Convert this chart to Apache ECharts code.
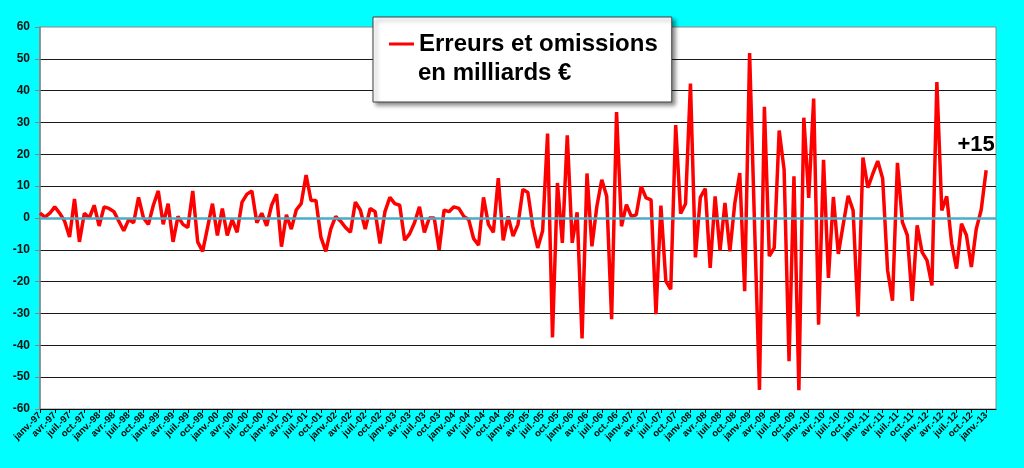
<!DOCTYPE html>
<html>
<head>
<meta charset="utf-8">
<script src="https://cdn.jsdelivr.net/npm/echarts@6/dist/echarts.min.js"></script>
<style>
  html, body { margin: 0; padding: 0; background: #00ffff; }
  #chart { width: 1024px; height: 468px; }
</style>
</head>
<body>
<div id="chart"></div>
<script>
// mois et années de l'axe des abscisses
var mois = ['janv.', 'févr.', 'mars', 'avr.', 'mai', 'juin', 'juil.', 'août', 'sept.', 'oct.', 'nov.', 'déc.'];
var annees = ['97', '98', '99', '00', '01', '02', '03', '04', '05', '06', '07', '08', '09', '10', '11', '12', '13'];

// erreurs et omissions, en milliards d'euros, une ligne par année
var e1997 = [1.5, 0.3, 1.5, 3.5, 1.5, -1, -6, 6, -7.5, 1.5, 0, 4];
var e1998 = [-2.5, 3.5, 3, 2, -1, -4, -0.5, -1.5, 6.5, 0, -2, 4];
var e1999 = [8.5, -2, 4.5, -7.5, 0.5, -2, -3, 8.5, -7.5, -10.5, -3, 4.5];
var e2000 = [-5.5, 3, -5.5, -0.5, -4.5, 5, 7.5, 8.5, -1.5, 1.5, -2.5, 4];
var e2001 = [7.5, -9, 1, -3.5, 2.5, 4.5, 13.5, 5.5, 5.5, -6, -10.5, -3.5];
var e2002 = [0.5, -1, -3, -4.5, 5, 2.5, -3.5, 3, 2, -8, 2, 6.5];
var e2003 = [4.5, 4, -7, -5, -1.5, 3.5, -4.5, 0, 0, -10, 2.5, 2];
var e2004 = [3.5, 3, 0.5, -0.5, -6.5, -8.5, 6.5, -2, -4.5, 12.5, -7, 0.5];
var e2005 = [-5.7, -2, 9, 8, -2.6, -9.4, -4, 26.5, -37.5, 11, -7.8, 26];
var e2006 = [-7.8, 1.8, -37.8, 14, -8.9, 3.6, 12, 6.8, -31.8, 33.3, -2.6, 4.2];
var e2007 = [0.5, 1, 9.9, 6.3, 5.7, -30.2, 3.9, -19.8, -22.4, 29.2, 1.4, 4.5];
var e2008 = [42.2, -12.4, 6.5, 9.2, -15.7, 6.8, -10.2, 4.7, -10.5, 4.7, 14.1, -23];
var e2009 = [51.8, -2, -54, 34.9, -12, -9.4, 27.5, 15.2, -45, 13.1, -54.1, 31.5];
var e2010 = [6.3, 37.5, -33.5, 18.3, -18.8, 6.6, -11.3, -2, 7, 2.4, -30.9, 19];
var e2011 = [9.5, 13.9, 17.9, 12.4, -16.4, -26, 17.3, -1.3, -5.4, -26, -2.3, -10.7];
var e2012 = [-13.3, -21.2, 42.7, 2.4, 6.8, -8, -15.9, -1.8, -5.4, -15.4, -3.4, 2.6];
var e2013 = [15];

var valeurs = [].concat(e1997, e1998, e1999, e2000, e2001, e2002, e2003, e2004,
    e2005, e2006, e2007, e2008, e2009, e2010, e2011, e2012, e2013);

// l'axe va jusqu'à mars-13
var categories = [];
annees.forEach(function(a) {
    var n = a === '13' ? 3 : 12;
    for (var m = 0; m < n; m++) {
        categories.push(mois[m] + '-' + a);
    }
});

var derniere = valeurs.length - 1;
var police = 'Arial, "Liberation Sans", sans-serif';

var myChart = echarts.init(document.getElementById('chart'));
var option = {
    animation: false,
    backgroundColor: '#00ffff',
    textStyle: { fontFamily: police },
    grid: {
        left: 40, right: 28, top: 27, bottom: 59,
        show: true,
        backgroundColor: '#ffffff',
        borderColor: '#868686',
        borderWidth: 1
    },
    legend: {
        left: 373,
        top: 17,
        padding: [13, 14, 44, 16],
        icon: 'rect',
        itemWidth: 25,
        itemHeight: 3,
        backgroundColor: '#ffffff',
        borderColor: '#404040',
        borderWidth: 1,
        shadowColor: 'rgba(0,0,0,0.45)',
        shadowBlur: 4,
        shadowOffsetX: 3,
        shadowOffsetY: 3,
        formatter: function() { return 'Erreurs et omissions'; },
        textStyle: { fontSize: 24, fontWeight: 'bold', color: '#000', lineHeight: 28 },
        data: ['Erreurs et omissions en milliards €']
    },
    graphic: [{
        type: 'text',
        z: 100,
        left: 418,
        top: 61,
        style: {
            text: 'en milliards €',
            font: 'bold 24px ' + police,
            fill: '#000'
        }
    }],
    xAxis: {
        type: 'category',
        boundaryGap: false,
        data: categories,
        axisLine: { onZero: false, lineStyle: { color: '#000', width: 1 } },
        axisTick: { interval: 2, length: 4, lineStyle: { color: '#000' } },
        axisLabel: {
            interval: 2,
            rotate: 45,
            margin: 5,
            fontSize: 9.5,
            fontWeight: 'bold',
            color: '#000'
        },
        splitLine: { show: false }
    },
    yAxis: {
        type: 'value',
        min: -60,
        max: 60,
        interval: 10,
        axisLine: { show: true, lineStyle: { color: '#868686', width: 1.5 } },
        axisTick: { show: true, length: 5, lineStyle: { color: '#868686' } },
        axisLabel: { fontSize: 12, fontWeight: 'bold', color: '#111', margin: 10 },
        splitLine: { show: true, showMaxLine: false, lineStyle: { color: '#1a1a1a', width: 1 } }
    },
    series: [{
        name: 'Erreurs et omissions en milliards €',
        type: 'line',
        data: valeurs,
        symbol: 'none',
        lineStyle: { color: '#ff0000', width: 3.5 },
        itemStyle: { color: '#ff0000' },
        markLine: {
            silent: true,
            symbol: 'none',
            label: { show: false },
            lineStyle: { color: '#4bacc6', width: 2.5, type: 'solid' },
            data: [{ yAxis: 0 }]
        },
        markPoint: {
            symbol: 'circle',
            symbolSize: 0,
            label: {
                show: true,
                offset: [-10, -25],
                fontSize: 22,
                fontWeight: 'bold',
                color: '#000',
                formatter: function() { return '+' + valeurs[derniere]; }
            },
            data: [{ coord: [derniere, valeurs[derniere]] }]
        }
    }]
};

myChart.setOption(option);
</script>
</body>
</html>
